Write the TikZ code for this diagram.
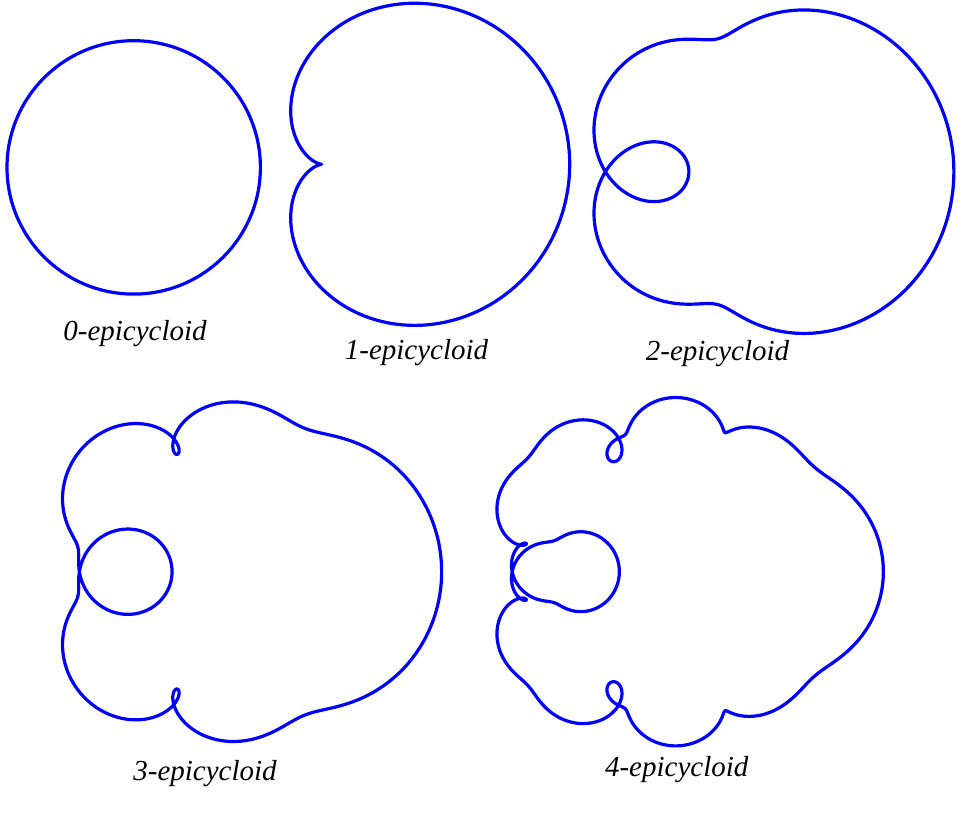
\documentclass[tikz,border=0pt]{standalone}
\usepackage{fontspec}
\setmainfont{Liberation Serif}
\definecolor{curveblue}{RGB}{0,0,250}
\begin{document}
\begin{tikzpicture}[x=1pt,y=-1pt,
  epi/.style={draw=curveblue, line width=3.2pt, line join=round, line cap=round, variable=\t, domain=0:360},
  lab/.style={font=\fontsize{29}{34}\selectfont\itshape, anchor=base, inner sep=0pt}]
\useasboundingbox (0,0) rectangle (974,813);
% 0-epicycloid
\draw[epi] (133.7,167.4) circle[radius=126.7];
% 1-epicycloid
\draw[epi, samples=400] plot ({383.7 - 124*(cos(\t) - cos(2*\t)/2)},
  {164.3 - 124*(sin(\t) - sin(2*\t)/2)}) -- cycle;
% 2-epicycloid
\draw[epi, samples=600] plot ({722 - 132.5*(cos(\t) - cos(2*\t)/2 - cos(4*\t)/4)},
  {171.7 - 132.5*(sin(\t) - sin(2*\t)/2 - sin(4*\t)/4)}) -- cycle;
% 3-epicycloid
\draw[epi, samples=1000] plot ({188.9 - 134.8*(cos(\t) - cos(2*\t)/2 - cos(4*\t)/4 - cos(8*\t)/8)},
  {571.7 - 134.8*(sin(\t) - sin(2*\t)/2 - sin(4*\t)/4 - sin(8*\t)/8)}) -- cycle;
% 4-epicycloid
\draw[epi, samples=1441] plot ({627.6 - 132*(cos(\t) - cos(2*\t)/2 - cos(4*\t)/4 - cos(8*\t)/8 - cos(16*\t)/16)},
  {571.7 - 132*(sin(\t) - sin(2*\t)/2 - sin(4*\t)/4 - sin(8*\t)/8 - sin(16*\t)/16)}) -- cycle;
% labels
\node[lab] (l0) at (135,340) {0-epicycloid};
\node[lab] (l1) at (416.5,359.3) {1-epicycloid};
\node[lab] (l2) at (717.5,360) {2-epicycloid};
\node[lab] (l3) at (205,780.7) {3-epicycloid};
\node[lab] (l4) at (676.7,776.7) {4-epicycloid};
\end{tikzpicture}
\end{document}
